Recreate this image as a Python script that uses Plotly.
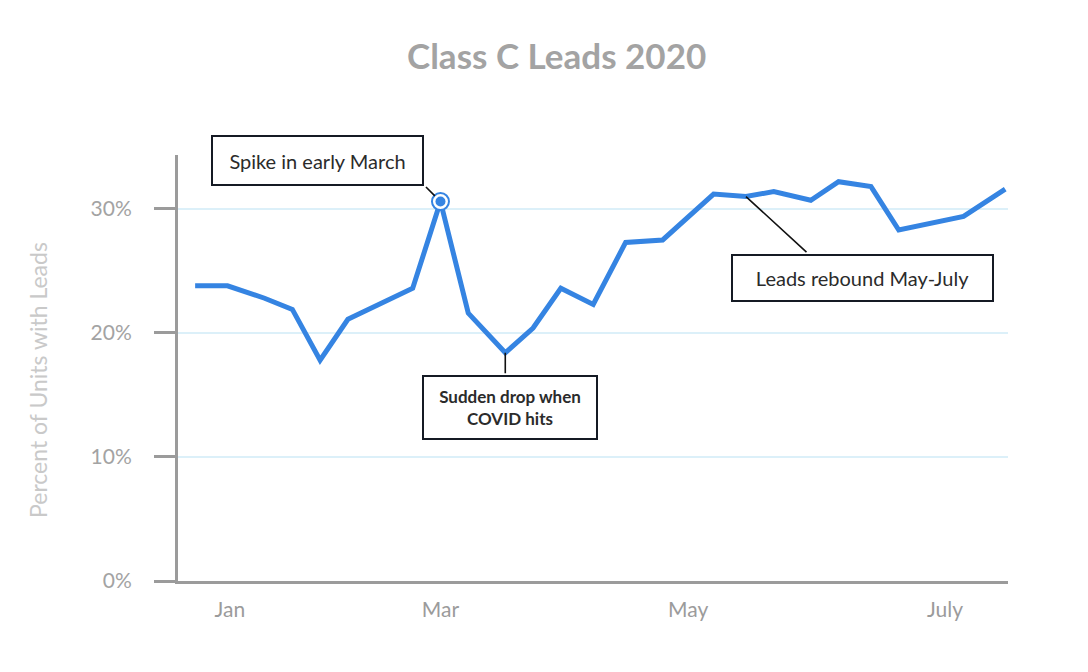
import plotly.graph_objects as go

# Data: day of year (approx.) and percent of units with leads
days = [0, 7, 15, 21, 27, 33, 47, 53, 59, 67, 73, 79, 86, 93, 101,
        112, 119, 125, 133, 139, 146, 152, 166, 175]
pct = [23.8, 23.8, 22.8, 21.9, 17.8, 21.1, 23.6, 30.6, 21.6, 18.4, 20.4,
       23.6, 22.3, 27.3, 27.5, 31.2, 31.0, 31.4, 30.7, 32.2, 31.8, 28.3,
       29.4, 31.6]

month_ticks = [7.5, 53, 106.5, 162]
month_labels = ["Jan", "Mar", "May", "July"]
y_ticks = [0, 10, 20, 30]
y_labels = ["0%", "10%", "20%", "30%"]

title_text = "Class C Leads 2020"
y_title = "Percent of Units with Leads"

spike_i = 7
drop_i = 9
rebound_i = 16

BLUE = "#3584e2"
GRAY = "#9b9b9b"
FONT = "Lato"

fig = go.Figure()
fig.add_trace(go.Scatter(x=days, y=pct, mode="lines",
                         line=dict(color=BLUE, width=5),
                         hoverinfo="skip", showlegend=False))
fig.add_trace(go.Scatter(x=[days[spike_i]], y=[pct[spike_i]], mode="markers",
                         marker=dict(size=17, color="white",
                                     line=dict(color=BLUE, width=2)),
                         showlegend=False, hoverinfo="skip"))
fig.add_trace(go.Scatter(x=[days[spike_i]], y=[pct[spike_i]], mode="markers",
                         marker=dict(size=10, color=BLUE),
                         showlegend=False, hoverinfo="skip"))

box_font = dict(family=FONT, size=20, color="#2b2b2b")

def connector(i, ax, ay, standoff=0):
    fig.add_annotation(x=days[i], y=pct[i], text="", showarrow=True,
                       arrowhead=0, arrowwidth=1.6, arrowcolor="#111",
                       ax=ax, ay=ay, standoff=standoff)

def box(i, text, xs, ys, w, h, font):
    fig.add_annotation(x=days[i], y=pct[i], text=text, showarrow=False,
                       xshift=xs, yshift=ys, width=w, height=h,
                       bordercolor="#151a24", borderwidth=2, borderpad=0,
                       bgcolor="white", font=font, align="center")

connector(spike_i, -16, -16, standoff=8)
box(spike_i, "Spike in early March", -122.5, 41.5, 209, 47, box_font)

connector(drop_i, 0, 22)
box(drop_i, "<b>Sudden drop when<br>COVID hits</b>", 5, -54.5, 172, 61,
    dict(family=FONT, size=17, color="#2b2b2b"))

connector(rebound_i, 62, 57)
box(rebound_i, "Leads rebound May-July", 116.5, -81, 259, 44, box_font)

# y-axis title placed as rotated text left of the axis
fig.add_annotation(text=y_title, xref="paper", yref="paper",
                   x=-0.1687, y=0.472, xanchor="center", yanchor="middle",
                   textangle=-90, showarrow=False,
                   font=dict(family=FONT, size=23, color="#c9c9c9"))

fig.update_layout(
    width=1080, height=664,
    paper_bgcolor="white", plot_bgcolor="white",
    margin=dict(l=170, r=80, t=147, b=91),
    title=dict(text="<b>" + title_text + "</b>", x=0.508, xanchor="center",
               y=0.926, yanchor="middle",
               font=dict(family=FONT, size=35, color="#a3a3a3")),
    xaxis=dict(range=[-3.7, 175.6], showgrid=False, zeroline=False,
               showline=True, linecolor=GRAY, linewidth=3,
               tickmode="array", tickvals=month_ticks,
               ticktext=month_labels, ticks="",
               tickfont=dict(family=FONT, size=21, color=GRAY),
               ticklabelstandoff=8),
    yaxis=dict(range=[0, 34.35], showgrid=True, gridcolor="#dcf0f9",
               gridwidth=2, zeroline=False, showline=True, linecolor=GRAY,
               linewidth=3, tickmode="array", tickvals=y_ticks,
               ticktext=y_labels, ticks="outside", ticklen=21,
               tickwidth=3, tickcolor=GRAY,
               tickfont=dict(family=FONT, size=21, color="#a3a3a3"),
               ticklabelstandoff=18),
)

fig.write_html("out.html")
